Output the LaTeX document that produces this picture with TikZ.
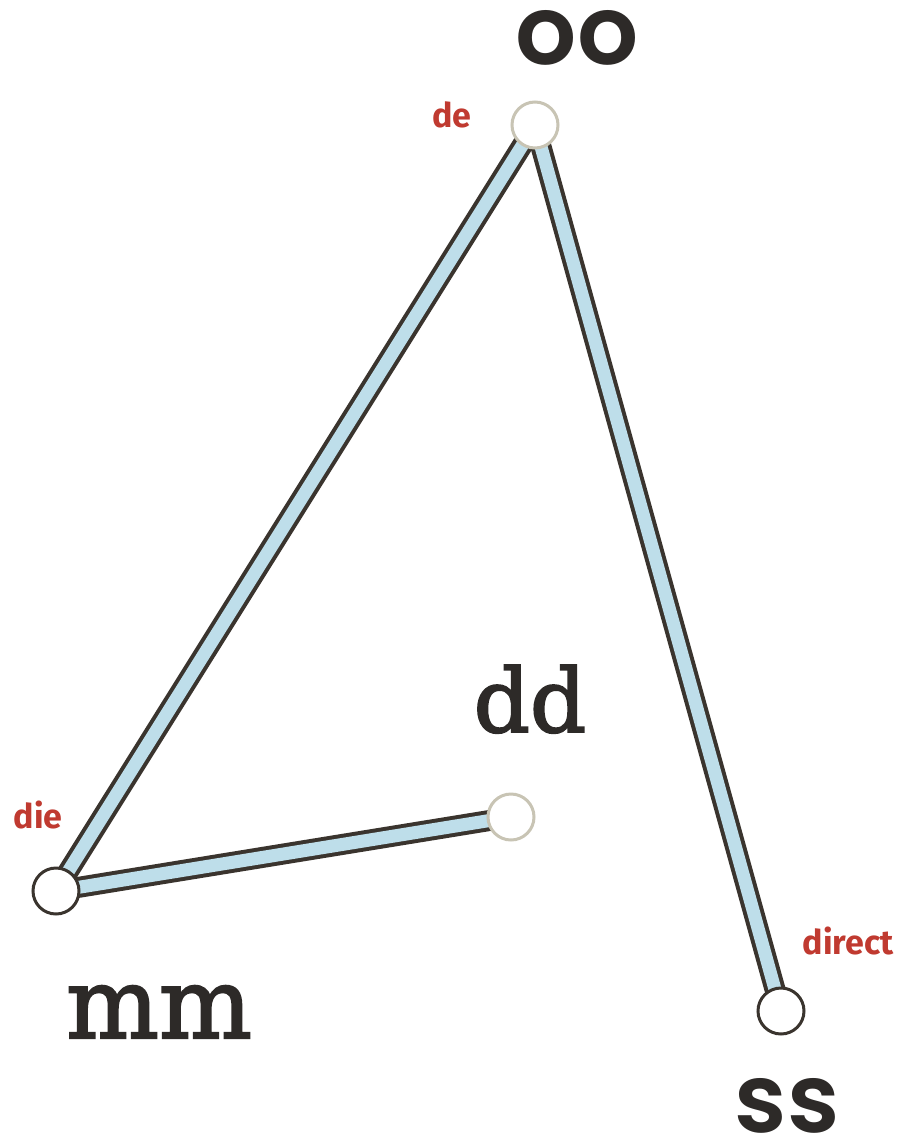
\documentclass[tikz,border=0pt]{standalone}
\usepackage{fontspec}
\usetikzlibrary{backgrounds}
\newfontfamily\geofont{Poppins}[BoldFont={Poppins SemiBold}]
\newfontfamily\redfont{Fira Sans}
\newfontfamily\slabfont{DejaVu Serif}[FakeBold=2.2]
\definecolor{inkdark}{RGB}{45,42,40}
\definecolor{labelred}{RGB}{192,58,48}
\definecolor{tubeblue}{RGB}{190,222,234}
\definecolor{tubeedge}{RGB}{58,52,46}
\definecolor{paleedge}{RGB}{200,196,180}
\tikzset{
  x=1pt, y=-1pt,
  station/.style={circle, fill=white, draw=tubeedge, line width=3pt, minimum size=46pt, inner sep=0pt},
  palestation/.style={station, draw=paleedge},
  tube/.style={draw=tubeedge, line width=4pt, double=tubeblue, double distance=13pt, line cap=round},
  bigsans/.style={anchor=base, text=inkdark, font=\geofont\bfseries\fontsize{96}{96}\selectfont, inner sep=0pt, text depth=0pt},
  bigslab/.style={anchor=base, text=inkdark, inner sep=0pt},
  redlabel/.style={anchor=base, text=labelred, font=\redfont\bfseries\fontsize{34}{34}\selectfont, inner sep=0pt}
}
\begin{document}
\begin{tikzpicture}
\useasboundingbox (0,0) rectangle (903,1144);
\node[palestation] (oo) at (535,125) {};
\node[station] (mm) at (56,891) {};
\node[palestation] (dd) at (511,817) {};
\node[station] (ss) at (781,1011) {};
\begin{pgfonlayer}{background}
\fill[white] (0,0) rectangle (903,1144);
\draw[tube] (oo.center) -- (mm.center);
\draw[tube] (mm.center) -- (dd.center);
\draw[tube] (oo.center) -- (ss.center);
\end{pgfonlayer}
\node[bigsans] (oolabel) at (577,64) {oo};
\node[bigsans] (sslabel) at (787,1132) {ss};
\node[bigslab, font=\slabfont\fontsize{98}{98}\selectfont] (mmlabel) at (159,1038) {mm};
\node[bigslab, font=\slabfont\fontsize{88}{88}\selectfont] (ddlabel) at (530,732) {dd};
\node[redlabel] (delabel) at (452,127) {de};
\node[redlabel] (dielabel) at (38,828) {die};
\node[redlabel] (directlabel) at (848,954) {direct};
\end{tikzpicture}
\end{document}
